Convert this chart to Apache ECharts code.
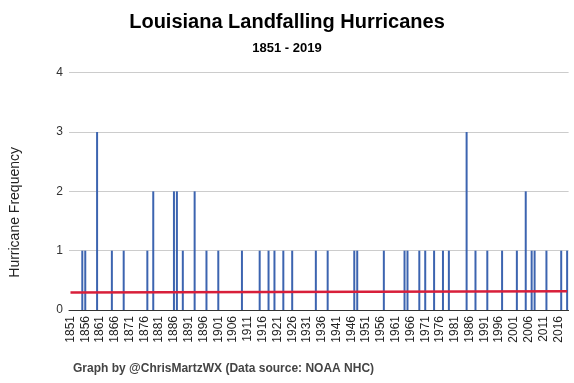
<!DOCTYPE html>
<html>
<head>
<meta charset="utf-8">
<script src="https://cdn.jsdelivr.net/npm/echarts@6/dist/echarts.min.js"></script>
<style>
html,body{margin:0;padding:0;background:#fff;}
#c{width:574px;height:383px;}
</style>
</head>
<body>
<div id="c"></div>
<script>
const firstYear = 1851;
const lastYear = 2019;
const hurricaneYears = [1855,1856,1860,1865,1869,1877,1879,1886,1887,1889,1893,1897,1901,
  1909,1915,1918,1920,1923,1926,1934,1938,1947,1948,1957,
  1964,1965,1969,1971,1974,1977,1979,1985,1988,1992,1997,2002,2005,2007,2008,2012,2017,2019];
const hurricaneCounts = [1,1,3,1,1,1,2,2,2,1,2,1,1,
  1,1,1,1,1,1,1,1,1,1,1,
  1,1,1,1,1,1,1,3,1,1,1,1,2,1,1,1,1,1];
const trendStart = 0.295;
const trendEnd = 0.315;
const yTicks = [0,1,2,3,4];

const categories = [];
for (let y = firstYear; y <= lastYear; y++) categories.push(String(y));
const counts = categories.map(() => 0);
hurricaneYears.forEach((y, i) => { counts[y - firstYear] = hurricaneCounts[i]; });
const trend = categories.map(() => null);
trend[0] = trendStart;
trend[trend.length - 1] = trendEnd;

const font = '"Liberation Sans", Arial, sans-serif';
const chart = echarts.init(document.getElementById('c'), null, {renderer: 'canvas'});
chart.setOption({
  animation: false,
  backgroundColor: '#ffffff',
  title: [
    {text: 'Louisiana Landfalling Hurricanes', left: 'center', top: 7,
     textStyle: {fontFamily: font, fontSize: 20, fontWeight: 'bold', color: '#000'}},
    {text: '1851 - 2019', left: 'center', top: 37,
     textStyle: {fontFamily: font, fontSize: 13, fontWeight: 'bold', color: '#000'}},
    {text: 'Graph by @ChrisMartzWX (Data source: NOAA NHC)', left: 68, top: 358,
     textStyle: {fontFamily: font, fontSize: 12, fontWeight: 'bold', color: '#444'}}
  ],
  grid: {left: 68.6, right: 5.4, top: 72.7, bottom: 73, containLabel: false},
  xAxis: {
    type: 'category',
    data: categories,
    boundaryGap: true,
    axisLine: {lineStyle: {color: '#333', width: 1}},
    axisTick: {show: false},
    axisLabel: {interval: 4, rotate: 90, fontFamily: font, fontSize: 12, color: '#222', margin: 6}
  },
  yAxis: {
    type: 'value',
    min: yTicks[0], max: yTicks[yTicks.length - 1], interval: 1,
    name: 'Hurricane Frequency',
    nameLocation: 'middle',
    nameGap: 47,
    nameTextStyle: {fontFamily: font, fontSize: 14, color: '#222', padding: [0, 42, 0, 0]},
    axisLine: {show: false},
    axisTick: {show: false},
    axisLabel: {fontFamily: font, fontSize: 12, color: '#333', margin: 6},
    splitLine: {lineStyle: {color: '#cccccc', width: 1}}
  },
  series: [
    {type: 'bar', data: counts, barWidth: 2, itemStyle: {color: '#3c64b0'}},
    {type: 'line', data: trend, connectNulls: true, symbol: 'none',
     lineStyle: {color: '#d81f3a', width: 2.5}, z: 5}
  ]
});
</script>
</body>
</html>
